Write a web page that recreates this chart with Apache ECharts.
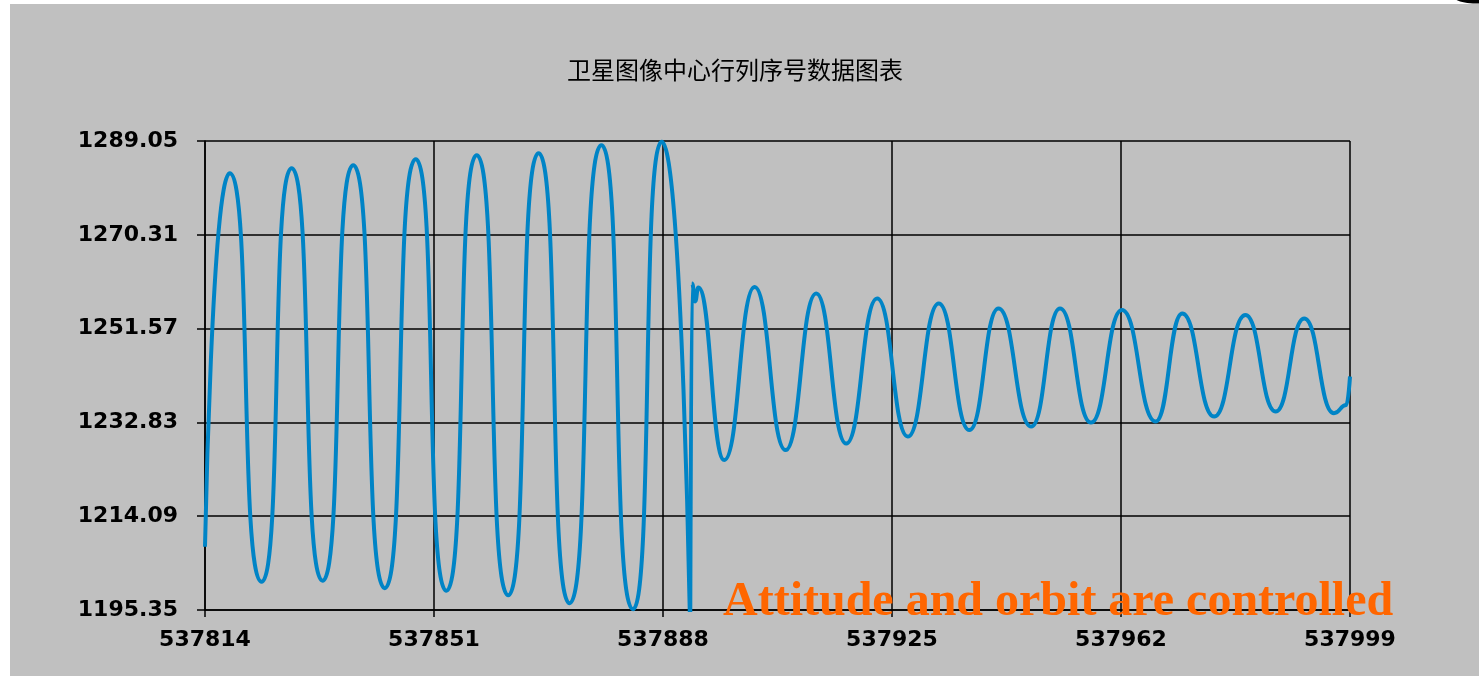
<!DOCTYPE html>
<html>
<head>
<meta charset="utf-8">
<script src="https://cdn.jsdelivr.net/npm/echarts@6/dist/echarts.min.js"></script>
<style>
  html, body { margin: 0; padding: 0; background: #ffffff; }
  #chart { width: 1479px; height: 681px; }
</style>
</head>
<body>
<div id="chart"></div>
<script>
// Satellite image centre row index over scan rows
const chartTitle = '卫星图像中心行列序号数据图表';
const noteText = 'Attitude and orbit are controlled';

const ROW_MIN = 537814, ROW_MAX = 537999, ROW_STEP = 37;
const VAL_MIN = 1195.35, VAL_MAX = 1289.05, VAL_STEP = 18.74;

const xTickLabels = ['537814', '537851', '537888', '537925', '537962', '537999'];
const yTickLabels = ['1195.35', '1214.09', '1232.83', '1251.57', '1270.31', '1289.05'];

// Free oscillation: start row, then alternating crests and troughs
const freeRow = [
  537814.0,
  537818.0, 537823.15, 537828.0, 537833.0, 537837.95, 537843.05, 537848.05, 537853.0,
  537857.9, 537863.0, 537867.9, 537872.9, 537878.05, 537883.15, 537887.8, 537892.4
];
const freeValue = [
  1208.0,
  1282.6, 1201.0, 1283.6, 1201.2, 1284.2, 1199.7, 1285.4, 1199.2,
  1286.2, 1198.3, 1286.6, 1196.7, 1288.2, 1195.5, 1288.9, 1190.0
];

// After attitude and orbit control: damped oscillation
const controlledRow = [
  537892.7, 537893.2, 537893.7,
  537897.9, 537902.8, 537907.8, 537912.75, 537917.6, 537922.6, 537927.55, 537932.55,
  537937.5, 537942.2, 537947.5, 537952.15, 537957.15, 537962.15, 537967.6, 537971.9,
  537977.05, 537982.1, 537987.0, 537991.6, 537996.4, 537998.4, 537999.0
];
const controlledValue = [
  1260.6, 1257.0, 1259.8,
  1225.3, 1259.9, 1227.3, 1258.6, 1228.6, 1257.6, 1230.0, 1256.6,
  1231.3, 1255.6, 1232.0, 1255.6, 1232.8, 1255.3, 1233.0, 1254.6,
  1234.0, 1254.3, 1235.0, 1253.6, 1234.65, 1236.3, 1242.0
];

// Axes run from the first row / lowest tick so ticks fall on whole steps
const toPoint = (r, v) => [+(r - ROW_MIN).toFixed(3), +(v - VAL_MIN).toFixed(3)];
const freeData = freeRow.map((r, i) => toPoint(r, freeValue[i]));
// the controlled stretch continues from the last free point (the jump)
const controlledData = [freeData[freeData.length - 1]].concat(
  controlledRow.map((r, i) => toPoint(r, controlledValue[i]))
);
const xSpan = ROW_MAX - ROW_MIN;
const ySpan = +(VAL_MAX - VAL_MIN).toFixed(2);

const labelFont = {
  color: '#000000',
  fontFamily: 'DejaVu Sans',
  fontWeight: 'bold',
  fontSize: 22
};
const blackLine = { color: '#000000', width: 1.5 };
const traceStyle = { color: '#0084C6', width: 4 };

const chart = echarts.init(document.getElementById('chart'), null, { renderer: 'canvas' });

chart.setOption({
  animation: false,
  backgroundColor: '#ffffff',
  title: {
    text: chartTitle,
    left: 562,
    top: 53,
    textStyle: {
      fontFamily: 'Noto Sans CJK SC',
      fontSize: 24,
      fontWeight: 'normal',
      color: '#000000'
    }
  },
  grid: {
    left: 205,
    top: 141,
    right: 129,
    bottom: 71,
    outerBoundsMode: 'none',
    containLabel: false
  },
  xAxis: {
    type: 'value',
    min: 0,
    max: xSpan,
    interval: ROW_STEP,
    axisLine: { show: true, lineStyle: blackLine },
    axisTick: { show: true, inside: false, length: 7, lineStyle: blackLine },
    splitLine: { show: true, lineStyle: blackLine },
    axisLabel: Object.assign({
      margin: 19,
      formatter: v => xTickLabels[Math.round(v / ROW_STEP)]
    }, labelFont)
  },
  yAxis: {
    type: 'value',
    min: 0,
    max: ySpan,
    interval: VAL_STEP,
    axisLine: { show: true, lineStyle: blackLine },
    axisTick: { show: true, inside: false, length: 8, lineStyle: blackLine },
    splitLine: { show: true, lineStyle: blackLine },
    axisLabel: Object.assign({
      margin: 27,
      formatter: v => yTickLabels[Math.round(v / VAL_STEP)]
    }, labelFont)
  },
  series: [
    {
      type: 'line',
      data: freeData,
      smooth: 0.7,
      smoothMonotone: 'x',
      showSymbol: false,
      clip: true,
      lineStyle: traceStyle,
      z: 3
    },
    {
      type: 'line',
      data: controlledData,
      smooth: 0.5,
      smoothMonotone: 'x',
      showSymbol: false,
      clip: true,
      lineStyle: traceStyle,
      z: 3
    }
  ],
  graphic: [
    {
      type: 'rect',
      z: -100,
      silent: true,
      shape: { x: 10, y: 4, width: 1469, height: 672 },
      style: { fill: '#c0c0c0' }
    },
    {
      type: 'ellipse',
      z: -90,
      silent: true,
      shape: { cx: 1476, cy: -4, rx: 23, ry: 7.5 },
      style: { fill: '#000000' }
    },
    {
      type: 'text',
      z: 100,
      silent: true,
      style: {
        text: noteText,
        x: 723,
        y: 603,
        font: 'bold 48px "Liberation Serif"',
        fill: '#FF6600',
        align: 'left',
        verticalAlign: 'middle'
      }
    }
  ]
});
</script>
</body>
</html>
